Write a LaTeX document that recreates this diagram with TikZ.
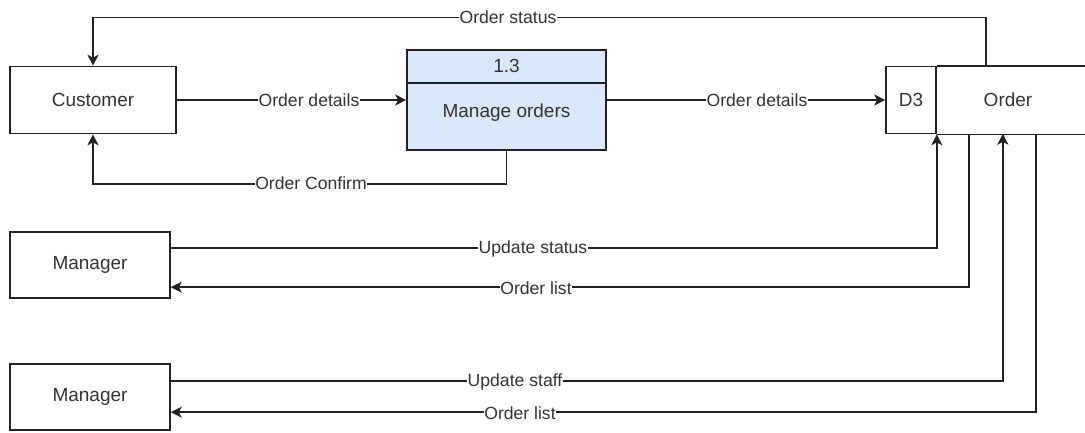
\documentclass[tikz,border=0pt]{standalone}
\usepackage{fontspec}
\setmainfont{Liberation Sans}
\usetikzlibrary{arrows.meta,calc}
\definecolor{procfill}{HTML}{DAE8FC}
\definecolor{ink}{HTML}{222222}
\definecolor{txt}{HTML}{333333}

\begin{document}
\begin{tikzpicture}[x=1pt,y=-1pt,
  box/.style={draw=ink, line width=1.6pt, minimum width=166pt, minimum height=67pt,
    inner sep=0pt, font=\fontsize{19}{22}\selectfont, text=txt},
  plain/.style={inner sep=0pt, font=\fontsize{19}{22}\selectfont, text=txt},
  flow/.style={draw=ink, line width=1.6pt, -{Stealth[length=11pt,width=11pt,inset=3pt]}},
  lbl/.style={fill=white, inner sep=0.6pt, font=\fontsize{17.6}{20}\selectfont, text=txt},
]
\useasboundingbox (0,0) rectangle (1085,432);

% external entities
\node[box] (cust) at (93,100) {Customer};
\node[box, minimum width=160pt, minimum height=66pt] (mgr1) at (90,265) {Manager};
\node[box, minimum width=160pt, minimum height=66pt] (mgr2) at (90,397) {Manager};

% process 1.3
\node[box, fill=procfill, minimum width=199pt, minimum height=100pt] (proc) at (506.5,100) {};
\coordinate (hdr) at (0,83);
\draw[draw=ink, line width=1.6pt] (proc.west |- hdr) -- (proc.east |- hdr);
\node[plain] (procid) at (506.5,66) {1.3};
\node[plain] (procname) at (506.5,113) {Manage orders};

% data store D3
\node[box, minimum width=50pt, minimum height=67pt] (d3) at (911,100) {D3};
\node[plain, minimum width=144pt, minimum height=67pt] (order) at (1008,100) {Order};
\coordinate (edge) at (1090,0);
\draw[draw=ink, line width=1.6pt] (d3.north east) -- (d3.north east -| edge);
\draw[draw=ink, line width=1.6pt] (d3.south east) -- (d3.south east -| edge);

\coordinate (st) at ($(order.north west)+(50,0)$);
\coordinate (s1) at ($(order.south west)+(33,0)$);
\coordinate (s2) at ($(order.south west)+(67,0)$);
\coordinate (s3) at ($(order.south west)+(100,0)$);

% data flows
\draw[flow] (cust.east) -- (proc.west);
\node[lbl] at (309,100) {Order details};

\draw[flow] (proc.east) -- (d3.west);
\node[lbl] at (757,100) {Order details};

\draw[flow] (st) -- ++(0,-49) -| (cust.north);
\node[lbl] at (508,17) {Order status};

\draw[flow] (proc.south) -- ++(0,33) -| (cust.south);
\node[lbl] at (311,183) {Order Confirm};

\draw[flow] ($(mgr1.north east)+(0,17)$) -| (d3.south east);
\node[lbl] at (533,249) {Update status};

\draw[flow] (s1) |- ($(mgr1.north east)+(0,56)$);
\node[lbl] at (536,288) {Order list};

\draw[flow] ($(mgr2.north east)+(0,18)$) -| (s2);
\node[lbl] at (515,382) {Update staff};

\draw[flow] (s3) |- ($(mgr2.north east)+(0,49)$);
\node[lbl] at (520,413) {Order list};
\end{tikzpicture}
\end{document}
